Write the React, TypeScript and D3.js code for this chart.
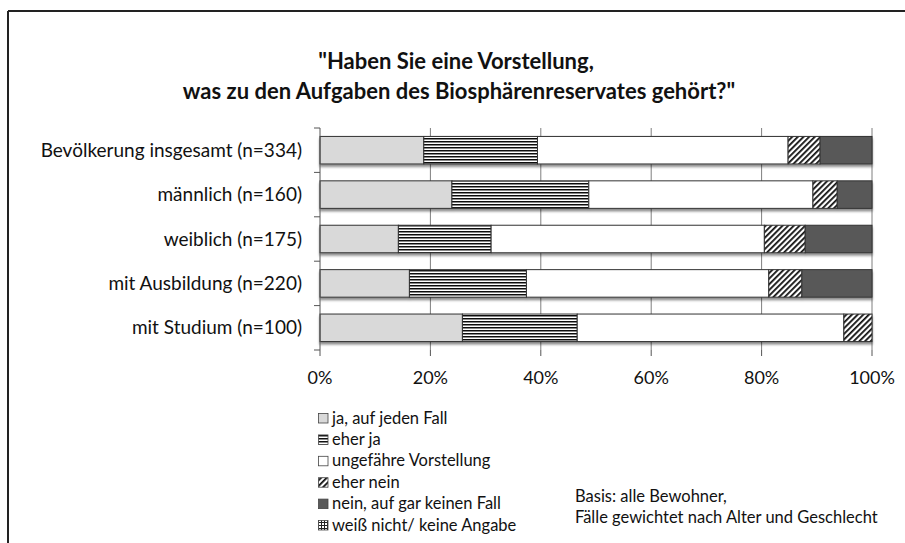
import React from "react";
import * as d3 from "d3";

const categories = [
  "Bevölkerung insgesamt (n=334)",
  "männlich (n=160)",
  "weiblich (n=175)",
  "mit Ausbildung (n=220)",
  "mit Studium (n=100)",
];
const seriesNames = [
  "ja, auf jeden Fall",
  "eher ja",
  "ungefähre Vorstellung",
  "eher nein",
  "nein, auf gar keinen Fall",
  "weiß nicht/ keine Angabe",
];
const jaAufJedenFall = [18.8, 23.9, 14.2, 16.2, 25.8];
const eherJa = [20.6, 24.8, 16.8, 21.2, 20.8];
const ungefaehr = [45.4, 40.6, 49.5, 43.9, 48.3];
const eherNein = [5.8, 4.4, 7.4, 6.0, 5.1];
const neinGarKein = [9.4, 6.3, 12.1, 12.7, 0];
const weissNicht = [0, 0, 0, 0, 0];
const xTicks = [0, 20, 40, 60, 80, 100];
const titleLines = [
  "\"Haben Sie eine Vorstellung,",
  "was zu den Aufgaben des Biosphärenreservates gehört?\"",
];
const noteLines = ["Basis: alle Bewohner,", "Fälle gewichtet nach Alter und Geschlecht"];

const seriesValues = [jaAufJedenFall, eherJa, ungefaehr, eherNein, neinGarKein, weissNicht];
const fills = ["#d9d9d9", "url(#pStripes)", "#ffffff", "url(#pHatch)", "#595959", "url(#pGrid)"];

const FONT = "Lato, 'Open Sans', sans-serif";

export default function App() {
  const W = 905, H = 543;
  const x = d3.scaleLinear().domain([0, 100]).range([320, 872]);
  const y = d3.scaleBand<string>().domain(categories).range([128, 350]).paddingInner(0.38).paddingOuter(0.19);
  const yb = d3.scaleBand<string>().domain(categories).range([128, 350]);

  const rows = categories.map((c, i) => {
    let acc = 0;
    return seriesValues.map((s, k) => {
      const x0 = acc;
      acc += s[i];
      return { c, k, x0, x1: acc, v: s[i] };
    });
  });

  const boundaries = categories.map((c) => yb(c) as number).concat([350]);

  return (
    <svg width={W} height={H} style={{ position: "absolute", left: 0, top: 0, background: "#fff" }}>
      <defs>
        <pattern id="pStripes" width="4" height="3" patternUnits="userSpaceOnUse">
          <rect width="4" height="3" fill="#fff" />
          <rect y="0" width="4" height="1.5" fill="#111" />
        </pattern>
        <pattern id="pHatch" width="4" height="4" patternUnits="userSpaceOnUse" patternTransform="rotate(45)">
          <rect width="4" height="4" fill="#fff" />
          <rect x="0" width="1.8" height="4" fill="#111" />
        </pattern>
        <pattern id="pGrid" width="3" height="3" patternUnits="userSpaceOnUse">
          <rect width="3" height="3" fill="#fff" />
          <rect width="3" height="1" fill="#222" />
          <rect width="1" height="3" fill="#222" />
        </pattern>
        <filter id="shadow" x="-5%" y="-20%" width="110%" height="160%">
          <feDropShadow dx="0" dy="2.5" stdDeviation="1.2" floodColor="#000" floodOpacity="0.45" />
        </filter>
      </defs>
      <rect x={0} y={0} width={W} height={H} fill="#fff" />
      {/* frame */}
      <line x1={8} y1={11} x2={W} y2={11} stroke="#222" strokeWidth={2} />
      <line x1={8} y1={11} x2={8} y2={H} stroke="#222" strokeWidth={2} />

      {/* title */}
      {titleLines.map((t, i) => (
        <text key={i} x={i === 0 ? 456 : 459} y={69 + i * 30} textAnchor="middle" fontFamily={FONT} fontWeight="bold" fontSize={22} fill="#111">
          {t}
        </text>
      ))}

      {/* grid lines */}
      {xTicks.filter((t) => t > 0).map((t) => (
        <line key={t} x1={x(t)} x2={x(t)} y1={128} y2={350} stroke="#7f7f7f" strokeWidth={1} />
      ))}

      {/* bars */}
      <g filter="url(#shadow)">
        {rows.map((segs, i) =>
          segs.filter((s) => s.v > 0).map((s) => (
            <rect
              key={i + "-" + s.k}
              x={x(s.x0)}
              y={y(s.c)}
              width={x(s.x1) - x(s.x0)}
              height={y.bandwidth()}
              fill={fills[s.k]}
              stroke="#333"
              strokeWidth={1}
            />
          ))
        )}
      </g>

      {/* axes */}
      <g filter="url(#shadow)">
        <line x1={320} x2={872} y1={350} y2={350} stroke="#555" strokeWidth={1} />
      </g>
      <line x1={320} x2={320} y1={128} y2={350} stroke="#555" strokeWidth={1} />
      {boundaries.map((b, i) => (
        <line key={i} x1={314} x2={320} y1={b} y2={b} stroke="#555" strokeWidth={1} />
      ))}
      {xTicks.map((t) => (
        <line key={t} x1={x(t)} x2={x(t)} y1={350} y2={356} stroke="#555" strokeWidth={1} />
      ))}
      {xTicks.map((t) => (
        <text key={t} x={x(t)} y={384} textAnchor="middle" fontFamily={FONT} fontSize={18} fill="#111">
          {t + "%"}
        </text>
      ))}

      {/* category labels */}
      {categories.map((c) => (
        <text key={c} x={302} y={(y(c) as number) + y.bandwidth() / 2 + 6.5} textAnchor="end" fontFamily={FONT} fontSize={19} fill="#111">
          {c}
        </text>
      ))}

      {/* legend */}
      {seriesNames.map((n, k) => {
        const cy = 418 + k * 21.4;
        return (
          <g key={n}>
            <rect x={318.5} y={cy - 4.5} width={9.5} height={9.5} fill={fills[k]} stroke="#444" strokeWidth={0.8} />
            <text x={332} y={cy + 5.5} fontFamily={FONT} fontSize={16.5} fill="#111">
              {n}
            </text>
          </g>
        );
      })}

      {/* note */}
      {noteLines.map((t, i) => (
        <text key={i} x={575} y={502 + i * 21} fontFamily={FONT} fontSize={16.5} fill="#111">
          {t}
        </text>
      ))}
    </svg>
  );
}
